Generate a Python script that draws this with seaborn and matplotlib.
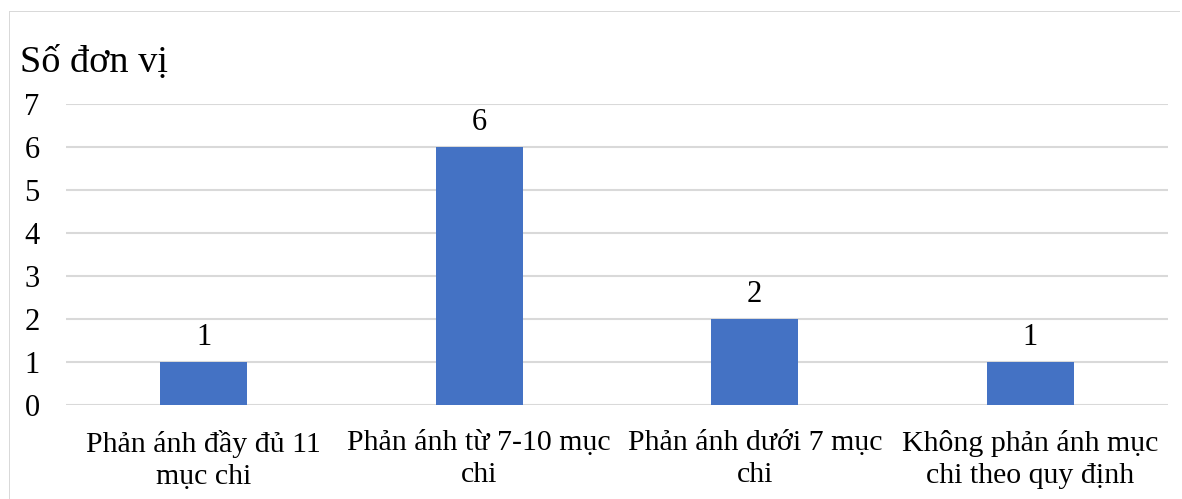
import matplotlib
matplotlib.use("Agg")
import matplotlib.pyplot as plt
import seaborn as sns
import pandas as pd
from matplotlib.patches import Rectangle

categories = [
    "Phản ánh đầy đủ 11\nmục chi",
    "Phản ánh từ 7-10 mục\nchi",
    "Phản ánh dưới 7 mục\nchi",
    "Không phản ánh mục\nchi theo quy định",
]
counts = [1, 6, 2, 1]
y_ticks = [0, 1, 2, 3, 4, 5, 6, 7]
y_title = "Số đơn vị"

sns.set_theme(style="white")
plt.rcParams["font.family"] = ["Liberation Serif", "DejaVu Serif"]

df = pd.DataFrame({"category": categories, "count": counts})

W, H = 1182, 499
fig = plt.figure(figsize=(W / 100, H / 100), dpi=100)
ax = fig.add_axes([66 / W, 1 - 405 / H, (1168 - 66) / W, (405 - 104) / H])

sns.barplot(data=df, x="category", y="count", color="#4472C4",
            width=0.316, saturation=1, ax=ax, zorder=3, linewidth=0)

ax.set_ylim(0, 7)
ax.set_yticks(y_ticks)
ax.set_xlim(-0.5, len(categories) - 0.5)
ax.yaxis.grid(True, color="#D9D9D9", linewidth=1.5, zorder=0)
ax.set_axisbelow(True)
for s in ax.spines.values():
    s.set_visible(False)
ax.set_xlabel("")
ax.set_ylabel("")
ax.tick_params(axis="y", labelsize=22, pad=19, length=0, colors="black")
ax.tick_params(axis="x", labelsize=21.5, pad=18, length=0, colors="black")
for lbl in ax.get_xticklabels():
    lbl.set_linespacing(1.28)

for container in ax.containers:
    ax.bar_label(container, labels=[str(v) for v in counts],
                 padding=7, fontsize=22, color="black")

fig.text(20 / W, 1 - 72 / H, y_title, fontsize=27.5, color="black",
         ha="left", va="baseline")

# outer chart frame: thin filled strips along the left and top edges
fx, fy, t = 8.75 / W, 1 - 12.25 / H, 1.5
frame_kw = dict(transform=fig.transFigure, facecolor="#D9D9D9",
                edgecolor="none", linewidth=0)
fig.patches.append(Rectangle((fx, 0), t / W, fy + t / H, **frame_kw))
fig.patches.append(Rectangle((fx, fy), (W - 2) / W - fx, t / H, **frame_kw))

fig.savefig("out.png", dpi=100, facecolor="white")
